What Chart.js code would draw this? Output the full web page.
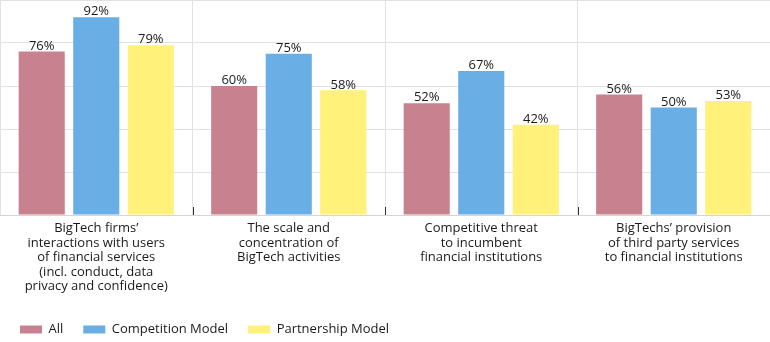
<!DOCTYPE html>
<html>
<head>
<meta charset="utf-8">
<script src="https://cdn.jsdelivr.net/npm/chart.js@4.4.1/dist/chart.umd.min.js"></script>
<style>
  html, body { margin: 0; padding: 0; background: #ffffff; }
  #wrap { width: 770px; height: 342px; position: relative; }
</style>
</head>
<body>
<div id="wrap"><canvas id="bigtechChart"></canvas></div>
<script>
// Survey categories (multi-line axis labels)
const categories = [
    ["BigTech firms\u2019", "interactions with users", "of financial services", "(incl. conduct, data", "privacy and confidence)"],
    ["The scale and", "concentration of", "BigTech activities"],
    ["Competitive threat", "to incumbent", "financial institutions"],
    ["BigTechs\u2019 provision", "of third party services", "to financial institutions"]
];

// Share of respondents, in percent
const allValues = [76, 60, 52, 56];
const competitionValues = [92, 75, 67, 50];
const partnershipValues = [79, 58, 42, 53];

const seriesNames = ["All", "Competition Model", "Partnership Model"];
const seriesColors = ["#c8818f", "#6aaee6", "#fff17a"];

const yTicks = [0, 20, 40, 60, 80, 100];

const textFont = "'Open Sans', 'Noto Sans', sans-serif";

// Percent labels above each bar
const valueLabels = {
    id: "valueLabels",
    afterDatasetsDraw(chart) {
        const ctx = chart.ctx;
        ctx.save();
        ctx.font = "13px " + textFont;
        ctx.fillStyle = "#1a1a1a";
        ctx.textAlign = "center";
        ctx.textBaseline = "bottom";
        chart.data.datasets.forEach((ds, i) => {
            const meta = chart.getDatasetMeta(i);
            meta.data.forEach((bar, j) => {
                ctx.fillText(ds.data[j] + "%", bar.x, bar.y + 1);
            });
        });
        ctx.restore();
    }
};

// Short dark marks at the category boundaries on the base line
const boundaryMarks = {
    id: "boundaryMarks",
    afterDraw(chart) {
        const ctx = chart.ctx;
        const x = chart.scales.x;
        const base = chart.scales.y.getPixelForValue(0);
        ctx.save();
        ctx.strokeStyle = "#333333";
        ctx.lineWidth = 1;
        for (let i = 1; i < categories.length; i++) {
            const px = Math.round(x.getPixelForValue(i - 0.5)) + 0.5;
            ctx.beginPath();
            ctx.moveTo(px, base - 8);
            ctx.lineTo(px, base);
            ctx.stroke();
        }
        ctx.restore();
    }
};

const datasets = [allValues, competitionValues, partnershipValues].map((values, i) => ({
    label: seriesNames[i],
    data: values,
    backgroundColor: seriesColors[i],
    borderWidth: 0,
    categoryPercentage: 0.85,
    barPercentage: 0.845
}));

new Chart(document.getElementById("bigtechChart"), {
    type: "bar",
    data: { labels: categories, datasets: datasets },
    options: {
        responsive: true,
        maintainAspectRatio: false,
        animation: false,
        layout: { padding: { top: 0, left: 0, right: 0, bottom: -4 } },
        scales: {
            x: {
                grid: { color: "#e2e2e2", offset: true, drawTicks: false },
                border: { color: "#d4d4d4" },
                ticks: {
                    color: "#1a1a1a",
                    font: { family: textFont, size: 13, lineHeight: 1.12 },
                    padding: 6,
                    maxRotation: 0,
                    autoSkip: false
                },
                afterFit(scale) { scale.height = 88; }
            },
            y: {
                min: 0,
                max: 100,
                afterBuildTicks(scale) { scale.ticks = yTicks.map(v => ({ value: v })); },
                grid: { color: "#e2e2e2", drawTicks: false },
                border: { display: false },
                ticks: { display: false },
                afterFit(scale) { scale.width = 0; }
            }
        },
        plugins: {
            legend: {
                position: "bottom",
                align: "start",
                labels: {
                    boxWidth: 22,
                    boxHeight: 8,
                    padding: 20,
                    color: "#1a1a1a",
                    font: { family: textFont, size: 13 }
                }
            },
            tooltip: { enabled: false }
        }
    },
    plugins: [valueLabels, boundaryMarks]
});
</script>
</body>
</html>
